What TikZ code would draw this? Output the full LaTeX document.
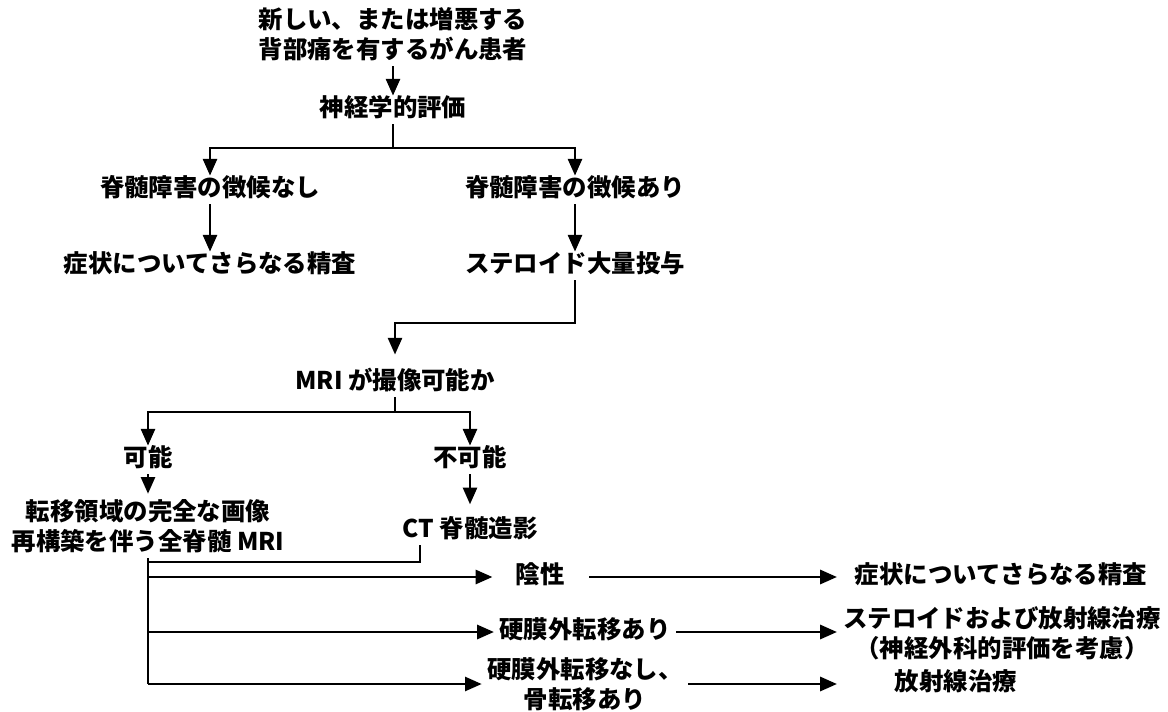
\documentclass[tikz,border=0pt]{standalone}
\usepackage{fontspec}
\setmainfont{Noto Sans CJK JP}
\usepackage{tikz}
\usetikzlibrary{shapes, arrows.meta, positioning, calc}

\begin{document}
\begin{tikzpicture}[
        x=0.02cm, y=-0.02cm,
        every node/.style={font=\fontsize{13.9pt}{17pt}\selectfont\bfseries, inner sep=3pt, align=center},
        txt/.style={text height=0.88em, text depth=0.12em},
        flow/.style={line width=1.4pt},
        flowarrow/.style={line width=1.4pt, -{Triangle[length=9.5pt, width=8pt]}}
    ]
        \useasboundingbox (0,0) rectangle (1168,712);

        \node (title) at (393,34) {新しい、または増悪する\\背部痛を有するがん患者};
        \node[txt] (neuro) at (393,110) {神経学的評価};
        \node[txt] (nosign) at (210,190) {脊髄障害の徴候なし};
        \node[txt] (sign) at (575,190) {脊髄障害の徴候あり};
        \node[txt] (furtherA) at (210,266) {症状についてさらなる精査};
        \node[txt] (steroid) at (575,266) {ステロイド大量投与};
        \node[txt] (mriq) at (395,383) {MRI が撮像可能か};
        \node[txt] (able) at (148,460) {可能};
        \node[txt] (unable) at (470,460) {不可能};
        \node (wholemri) at (148,526) {転移領域の完全な画像\\再構築を伴う全脊髄 MRI};
        \node[txt] (ctmyelo) at (470,531) {CT 脊髄造影};
        \node[txt] (negative) at (540,577) {陰性};
        \node[txt] (epidural) at (585,632) {硬膜外転移あり};
        \node (noepidural) at (585,684) {硬膜外転移なし、\\骨転移あり};
        \node[txt] (furtherB) at (1001,577) {症状についてさらなる精査};
        \node (steroidrt) at (1002,633) {ステロイドおよび放射線治療\\（神経外科的評価を考慮）};
        \node[txt] (radio) at (956,684) {放射線治療};

        % Links
        \draw[flowarrow] (title) -- (neuro);
        \coordinate (split1) at (393,148);
        \draw[flow] (neuro) -- (split1);
        \draw[flowarrow] (split1) -| (nosign);
        \draw[flowarrow] (split1) -| (sign);
        \draw[flowarrow] (nosign) -- (furtherA);
        \draw[flowarrow] (sign) -- (steroid);

        \coordinate (turn1) at (575,323);
        \draw[flowarrow, shorten >=8pt] (steroid) -- (turn1) -| (mriq);
        \coordinate (split2) at (395,412);
        \draw[flow] (mriq) -- (split2);
        \draw[flowarrow] (split2) -| (able);
        \draw[flowarrow] (split2) -| (unable);
        \draw[flowarrow] (able) -- (wholemri);
        \draw[flowarrow, shorten >=7pt] (unable) -- (ctmyelo);

        % Results
        \coordinate (ctturn) at (420,562);
        \draw[flow] (ctturn |- ctmyelo.south) -- (ctturn) -- (ctturn -| wholemri);
        \coordinate (busend) at (148,684);
        \draw[flow] (wholemri) -- (busend);
        \draw[flowarrow, shorten >=10pt] (wholemri |- negative) -- (negative);
        \draw[flowarrow] (wholemri |- epidural) -- (epidural);
        \draw[flowarrow] (busend) -- (noepidural);

        \draw[flowarrow, shorten <=11pt, shorten >=7pt] (negative) -- (furtherB);
        \draw[flowarrow, shorten >=7pt] (epidural) -- (epidural -| furtherB.west);
        \draw[flowarrow, shorten >=7pt] (noepidural) -- (noepidural -| furtherB.west);

    \end{tikzpicture}
\end{document}
